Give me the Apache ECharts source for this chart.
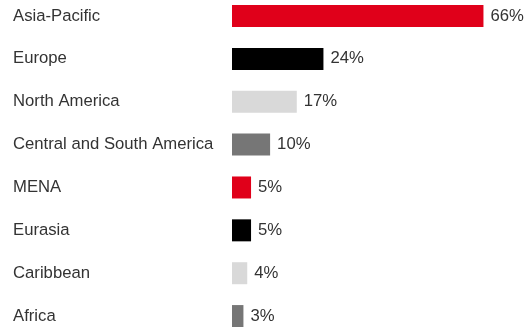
<!DOCTYPE html>
<html>
<head>
<meta charset="utf-8">
<script src="https://cdn.jsdelivr.net/npm/echarts@6/dist/echarts.min.js"></script>
<style>
html,body{margin:0;padding:0;background:#fff;}
#chart{width:528px;height:327px;}
</style>
</head>
<body>
<div id="chart"></div>
<script>
const categories = ["Asia-Pacific","Europe","North America","Central and South America","MENA","Eurasia","Caribbean","Africa"];
const values = [66, 24, 17, 10, 5, 5, 4, 3];
const palette = ["#e0001a", "#000000", "#d9d9d9", "#767676"];

const chart = echarts.init(document.getElementById('chart'));
chart.setOption({
  animation: false,
  grid: { left: 232, width: 381, top: -5.4, height: 342.9, containLabel: false, outerBoundsMode: 'none' },
  xAxis: { type: 'value', min: 0, max: 100, show: false },
  yAxis: {
    type: 'category', data: categories, inverse: true,
    axisLine: { show: false }, axisTick: { show: false },
    axisLabel: { align: 'left', margin: 219, color: '#333333', fontSize: 16.7, fontFamily: 'Liberation Sans, Arial, sans-serif', padding: [2, 0, 0, 0] }
  },
  series: [{
    type: 'bar', data: values, barWidth: 22,
    itemStyle: { color: p => palette[p.dataIndex % palette.length] },
    label: { show: true, position: 'right', distance: 7, formatter: p => p.value + '%', color: '#333333', fontSize: 16.7, fontFamily: 'Liberation Sans, Arial, sans-serif', padding: [2, 0, 0, 0] }
  }]
});
</script>
</body>
</html>
